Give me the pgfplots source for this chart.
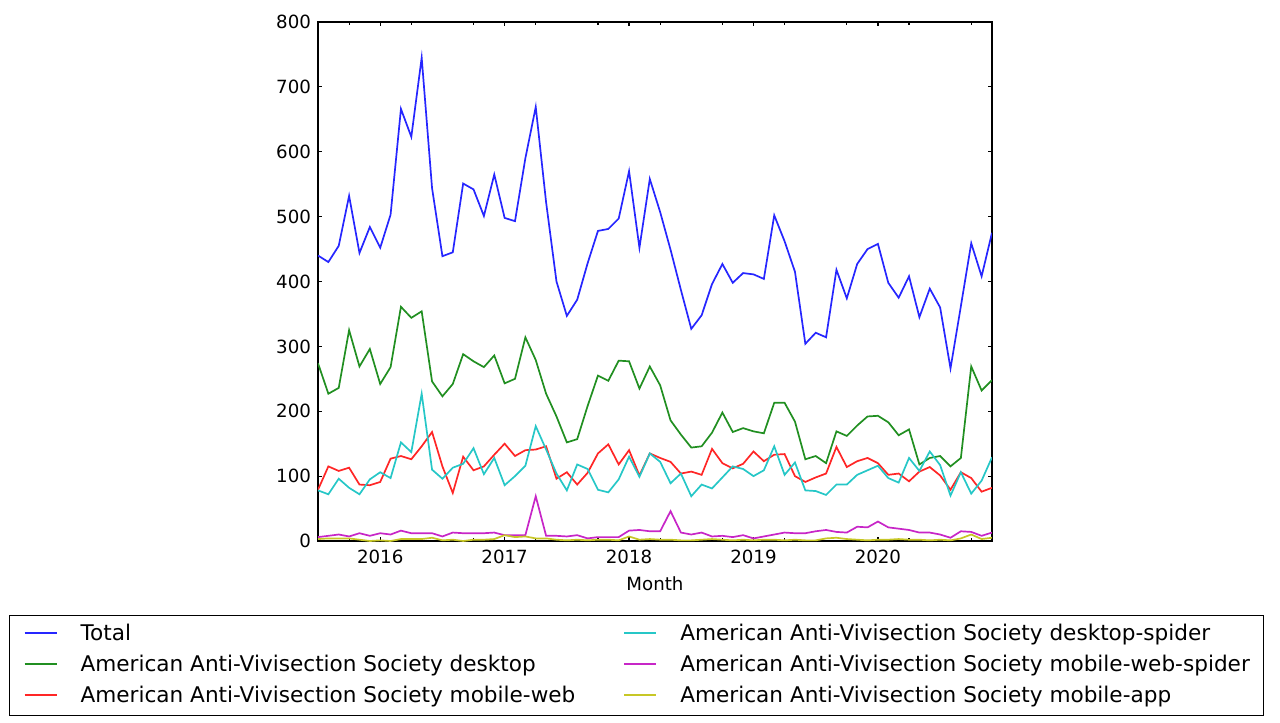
\documentclass[border=0pt]{standalone}
\usepackage{fontspec}
\setmainfont{DejaVu Sans}
\usepackage{pgfplots}
\usepackage{pgfplotstable}
\pgfplotsset{compat=1.18}
\definecolor{mplb}{rgb}{0.15,0.15,1}
\definecolor{mplg}{rgb}{0.13,0.56,0.13}
\definecolor{mplr}{rgb}{1,0.15,0.15}
\definecolor{mplc}{rgb}{0.15,0.78,0.78}
\definecolor{mplm}{rgb}{0.78,0.15,0.78}
\definecolor{mply}{rgb}{0.78,0.78,0.15}
\pgfplotstableread{
i tot desk mweb dspi mwspi app
0 440 274 79 78 6 3
1 430 227 115 72 8 4
2 455 236 108 96 10 4
3 532 325 113 82 7 4
4 444 269 87 72 12 2
5 484 296 86 95 8 0
6 452 242 91 106 12 1
7 503 268 127 97 10 0
8 666 361 131 152 16 3
9 623 344 126 137 12 3
10 745 354 146 227 12 3
11 544 246 168 110 12 5
12 439 223 115 96 7 1
13 445 242 74 113 13 2
14 551 288 130 119 12 0
15 542 277 109 143 12 2
16 501 268 115 103 12 2
17 565 286 133 128 13 3
18 498 243 150 86 9 9
19 493 250 131 100 9 6
20 590 314 140 116 9 7
21 669 279 141 177 69 4
22 522 227 146 141 8 4
23 400 192 96 104 8 2
24 347 152 106 78 7 1
25 372 157 87 118 9 2
26 428 208 105 111 4 1
27 478 255 135 79 6 2
28 481 247 149 75 6 2
29 497 278 118 95 6 1
30 570 277 140 130 16 7
31 452 235 101 99 17 2
32 558 269 135 135 15 3
33 507 240 128 122 15 2
34 449 186 122 89 46 2
35 387 164 104 104 13 1
36 327 144 107 69 10 1
37 348 146 102 87 13 2
38 396 167 142 81 7 3
39 427 198 120 98 8 2
40 398 168 112 115 6 1
41 413 174 119 111 9 2
42 411 169 138 100 4 1
43 404 166 123 109 7 2
44 502 213 133 146 10 2
45 462 213 134 102 13 1
46 415 184 100 121 12 2
47 304 126 91 78 12 1
48 321 131 98 77 15 1
49 314 120 104 71 17 4
50 418 169 145 87 14 5
51 374 162 114 87 13 3
52 427 178 123 102 22 2
53 450 192 128 109 21 1
54 458 193 120 116 30 2
55 398 183 102 97 21 2
56 375 163 104 90 19 3
57 408 172 92 128 17 2
58 345 118 107 108 13 2
59 389 128 114 138 13 1
60 360 131 101 117 10 2
61 266 115 79 70 5 1
62 362 128 106 106 15 4
63 459 269 97 73 14 10
64 408 232 76 93 8 3
65 475 248 82 129 13 5
}\datatable
\begin{document}
\begin{tikzpicture}
\useasboundingbox (-159pt,-91pt) rectangle (481pt,270.5pt);
\begin{axis}[
  scale only axis, width=337pt, height=259.5pt,
  at={(0pt,0pt)}, anchor=south west,
  xmin=0, xmax=65, ymin=0, ymax=800,
  xtick={6,18,30,42,54}, xticklabels={2016,2017,2018,2019,2020},
  minor xtick={3,9,15,21,27,33,39,45,51,57,63},
  ytick={0,100,200,300,400,500,600,700,800},
  tick align=inside, major tick length=2pt, minor tick length=1.5pt,
  every tick/.style={black, line width=0.6pt},
  axis line style={line width=0.9pt},
  tick label style={font=\fontsize{9.1}{11}\selectfont},
  /pgf/number format/assume math mode=true,
  xticklabel style={anchor=base, yshift=-11pt},
  xlabel={Month},
  xlabel style={at={(axis description cs:0.5,0)}, anchor=base, yshift=-24.5pt, font=\fontsize{9.1}{11}\selectfont},
  legend columns=3, transpose legend,
  legend cell align=left,
  legend image code/.code={\draw[#1, line width=1pt] (0pt,1pt) -- (16pt,1pt);},
  legend style={at={(axis description cs:-0.45846,-0.14258)}, anchor=north west,
    draw=black, line width=0.6pt, fill=white,
    font=\fontsize{10.8}{13}\selectfont,
    inner xsep=7pt, inner ysep=4.5pt, row sep=5.5pt,
    nodes={inner sep=0pt, text height=8pt, text depth=2pt},
    /tikz/every odd column/.append style={column sep=11.5pt},
    /tikz/every even column/.append style={column sep=24pt}},
]
\addplot[mplb, line width=0.85pt] table[x=i, y=tot]{\datatable};
\addlegendentry{Total}
\addplot[mplg, line width=0.85pt] table[x=i, y=desk]{\datatable};
\addlegendentry{American Anti-Vivisection Society desktop}
\addplot[mplr, line width=0.85pt] table[x=i, y=mweb]{\datatable};
\addlegendentry{American Anti-Vivisection Society mobile-web}
\addplot[mplc, line width=0.85pt] table[x=i, y=dspi]{\datatable};
\addlegendentry{American Anti-Vivisection Society desktop-spider}
\addplot[mplm, line width=0.85pt] table[x=i, y=mwspi]{\datatable};
\addlegendentry{American Anti-Vivisection Society mobile-web-spider}
\addplot[mply, line width=0.85pt] table[x=i, y=app]{\datatable};
\addlegendentry{American Anti-Vivisection Society mobile-app}
\end{axis}
\end{tikzpicture}
\end{document}
